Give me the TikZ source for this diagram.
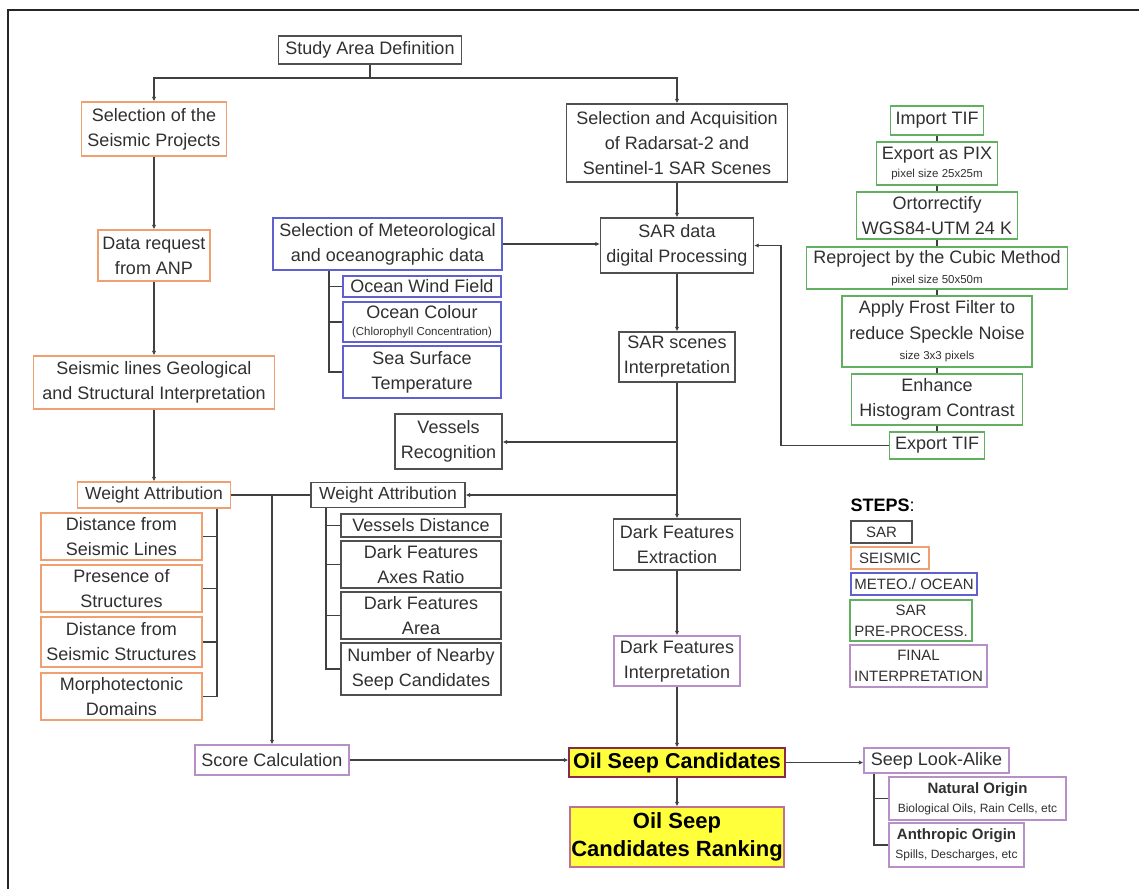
\documentclass[tikz,border=0pt]{standalone}
\usepackage{fontspec}
\setmainfont{Liberation Sans}
\usetikzlibrary{arrows.meta}
\definecolor{cgray}{HTML}{505050}
\definecolor{corange}{HTML}{F0A070}
\definecolor{cblue}{HTML}{6060D0}
\definecolor{cgreen}{HTML}{60B060}
\definecolor{cpurple}{HTML}{B890C8}
\definecolor{cyellow}{HTML}{FFFF3C}
\definecolor{cosc}{HTML}{8A2A4A}
\definecolor{crank}{HTML}{C07090}
\definecolor{txt}{HTML}{303030}
\definecolor{cline}{HTML}{404040}
\newcommand\smtxt[1]{{\fontsize{11.5}{13}\selectfont #1}}
\begin{document}
\begin{tikzpicture}[x=1pt,y=-1pt,
  box/.style={draw, line width=1.4pt, inner sep=0pt, align=center, text=txt,
    font=\fontsize{18}{25}\selectfont},
  sar/.style={box, draw=cgray},
  seis/.style={box, draw=corange},
  met/.style={box, draw=cblue},
  pre/.style={box, draw=cgreen},
  fin/.style={box, draw=cpurple},
  leg/.style={font=\fontsize{15}{21}\selectfont},
  conn/.style={draw=cline, line width=1.3pt},
  arr/.style={conn, -{Latex[length=4.5pt,width=4.5pt]}}]
\useasboundingbox (0,0) rectangle (1139,889);
\draw[line width=1.5pt, black!85] (8,889) -- (8,10) -- (1139,10);

% SAR column
\node[sar, minimum width=183, minimum height=28] (study) at (370,50) {Study Area Definition};
\node[sar, minimum width=221, minimum height=78] (acq) at (677,143) {Selection and Acquisition\\of Radarsat-2 and\\Sentinel-1 SAR Scenes};
\node[sar, minimum width=153, minimum height=55] (sardata) at (677,245.5) {SAR data\\digital Processing};
\node[sar, minimum width=116, minimum height=50] (sarscenes) at (677,357) {SAR scenes\\Interpretation};
\node[sar, minimum width=107, minimum height=55] (vessels) at (448.5,441.5) {Vessels\\Recognition};
\node[sar, minimum width=154, minimum height=25, font=\fontsize{17.5}{25}\selectfont] (wa2) at (388,495) {Weight Attribution};
\node[sar, minimum width=127, minimum height=51] (dfe) at (677,544.5) {Dark Features\\Extraction};
\node[sar, minimum width=160, minimum height=23] (vd) at (421,525.5) {Vessels Distance};
\node[sar, minimum width=160, minimum height=47] (axes) at (421,564.5) {Dark Features\\Axes Ratio};
\node[sar, minimum width=160, minimum height=47] (area) at (421,615.5) {Dark Features\\Area};
\node[sar, minimum width=160, minimum height=52] (nearby) at (421,669) {Number of Nearby\\Seep Candidates};

% Seismic column
\node[seis, minimum width=145, minimum height=54] (seisproj) at (154,129) {Selection of the\\Seismic Projects};
\node[seis, minimum width=112, minimum height=51] (datareq) at (154,255.5) {Data request\\from ANP};
\node[seis, minimum width=241, minimum height=53] (seislines) at (154,382.5) {Seismic lines Geological\\and Structural Interpretation};
\node[seis, minimum width=153, minimum height=26, font=\fontsize{17.5}{25}\selectfont] (wa1) at (154,495) {Weight Attribution};
\node[seis, minimum width=161, minimum height=47] (dsl) at (121.5,536.5) {Distance from\\Seismic Lines};
\node[seis, minimum width=161, minimum height=47] (pos) at (121.5,588.5) {Presence of\\Structures};
\node[seis, minimum width=161, minimum height=50] (dss) at (121.5,642) {Distance from\\Seismic Structures};
\node[seis, minimum width=161, minimum height=47] (morph) at (121.5,696.5) {Morphotectonic\\Domains};

% Meteo
\node[met, minimum width=229, minimum height=52] (meteo) at (387.5,244) {Selection of Meteorological\\and oceanographic data};
\node[met, minimum width=158, minimum height=21] (wind) at (422,286.5) {Ocean Wind Field};
\node[met, minimum width=158, minimum height=40] (colour) at (422,322) {Ocean Colour\\[-8pt]\smtxt{(Chlorophyll Concentration)}};
\node[met, minimum width=158, minimum height=52] (sst) at (422,372) {Sea Surface\\Temperature};

% Pre-processing
\node[pre, minimum width=93, minimum height=29] (import) at (937,120.5) {Import TIF};
\node[pre, minimum width=121, minimum height=43] (exportpix) at (937,163.5) {Export as PIX\\[-7pt]\smtxt{pixel size 25x25m}};
\node[pre, minimum width=161, minimum height=47] (ortho) at (937,215.5) {Ortorrectify\\WGS84-UTM 24 K};
\node[pre, minimum width=261, minimum height=42] (reproj) at (937,268) {Reproject by the Cubic Method\\[-5pt]\smtxt{pixel size 50x50m}};
\node[pre, minimum width=190, minimum height=71] (frost) at (937,331.5) {Apply Frost Filter to\\[1pt]reduce Speckle Noise\\[-5pt]\smtxt{size 3x3 pixels}};
\node[pre, minimum width=171, minimum height=51] (enhance) at (937,399.5) {Enhance\\Histogram Contrast};
\node[pre, minimum width=95, minimum height=27] (exporttif) at (937,445.5) {Export TIF};

% Final
\node[fin, minimum width=126, minimum height=50] (dfi) at (677,661) {Dark Features\\Interpretation};
\node[fin, minimum width=154, minimum height=30] (score) at (272,760) {Score Calculation};
\node[box, draw=cosc, fill=cyellow, text=black, minimum width=216, minimum height=29,
  font=\bfseries\fontsize{21.5}{25}\selectfont] (osc) at (677,762.5) {Oil Seep Candidates};
\node[box, draw=crank, fill=cyellow, text=black, minimum width=214, minimum height=60,
  font=\bfseries\fontsize{22}{28}\selectfont] (rank) at (677,837) {Oil Seep\\Candidates Ranking};
\node[fin, minimum width=145, minimum height=25] (lookalike) at (936.5,760.5) {Seep Look-Alike};
\node[fin, minimum width=177, minimum height=43, font=\fontsize{15}{19}\selectfont] (natural) at (977.5,798.5) {\textbf{Natural Origin}\\{\fontsize{12}{14}\selectfont Biological Oils, Rain Cells, etc}};
\node[fin, minimum width=135, minimum height=44, font=\fontsize{15}{19}\selectfont] (anthropic) at (956.5,845) {\textbf{Anthropic Origin}\\{\fontsize{12}{14}\selectfont Spills, Descharges, etc}};

% Legend
\node[anchor=base west, text=black, font=\bfseries\fontsize{18}{20}\selectfont] (steps) at (847,511) {STEPS\textmd{:}};
\node[sar, leg, minimum width=61, minimum height=22] (lsar) at (881.5,532) {SAR};
\node[seis, leg, minimum width=78, minimum height=22] (lseis) at (890,558) {SEISMIC};
\node[met, leg, minimum width=126, minimum height=22] (lmet) at (914,584) {METEO./ OCEAN};
\node[pre, leg, minimum width=122, minimum height=41] (lpre) at (911,620.5) {SAR\\PRE-PROCESS.};
\node[fin, leg, minimum width=137, minimum height=42] (lfin) at (918.5,666) {FINAL\\INTERPRETATION};

% Connectors
\coordinate (j1) at (370,78);
\draw[conn] (study.south) -- (j1);
\draw[arr] (j1) -| (seisproj.north);
\draw[arr] (j1) -| (acq.north);
\draw[arr] (seisproj.south) -- (datareq.north);
\draw[arr] (datareq.south) -- (seislines.north);
\draw[arr] (seislines.south) -- (wa1.north);
\draw[arr] (acq.south) -- (sardata.north);
\draw[arr] (meteo.east) -- (meteo.east -| sardata.west);
\draw[conn] (import.south) -- (exportpix.north);
\draw[conn] (exportpix.south) -- (ortho.north);
\draw[conn] (ortho.south) -- (reproj.north);
\draw[conn] (reproj.south) -- (frost.north);
\draw[conn] (frost.south) -- (enhance.north);
\draw[conn] (enhance.south) -- (exporttif.north);
\coordinate (rx) at (781,0);
\draw[arr] (exporttif.west) -- (exporttif.west -| rx) |- (sardata.east);
\draw[arr] (sardata.south) -- (sarscenes.north);
\draw[arr] (sarscenes.south) -- (dfe.north);
\coordinate (b1) at (677,442);
\coordinate (b2) at (677,495);
\draw[arr] (b1) -- (b1 -| vessels.east);
\draw[arr] (b2) -- (b2 -| wa2.east);
\draw[arr] (dfe.south) -- (dfi.north);
\draw[arr] (dfi.south) -- (osc.north);
\draw[arr] (osc.south) -- (rank.north);
\draw[conn] (wa1.east) -- (wa2.west);
\coordinate (b3) at (272,495);
\draw[arr] (b3) -- (score.north);
\draw[arr] (score.east) -- (score.east -| osc.west);
\draw[arr] (osc.east) -- (osc.east -| lookalike.west);
% brackets
\coordinate (mx) at (329,0);
\draw[conn] (mx |- meteo.south) |- (sst.west);
\draw[conn] (mx |- wind.west) -- (wind.west);
\draw[conn] (mx |- colour.west) -- (colour.west);
\coordinate (sx) at (217,0);
\draw[conn] (sx |- wa1.south) |- (morph.east);
\draw[conn] (sx |- dsl.east) -- (dsl.east);
\draw[conn] (sx |- pos.east) -- (pos.east);
\draw[conn] (sx |- dss.east) -- (dss.east);
\coordinate (wx) at (326,0);
\draw[conn] (wx |- wa2.south) |- (nearby.west);
\draw[conn] (wx |- vd.west) -- (vd.west);
\draw[conn] (wx |- axes.west) -- (axes.west);
\draw[conn] (wx |- area.west) -- (area.west);
\coordinate (lx) at (874,0);
\draw[conn] (lx |- lookalike.south) |- (anthropic.west);
\draw[conn] (lx |- natural.west) -- (natural.west);
\end{tikzpicture}
\end{document}
